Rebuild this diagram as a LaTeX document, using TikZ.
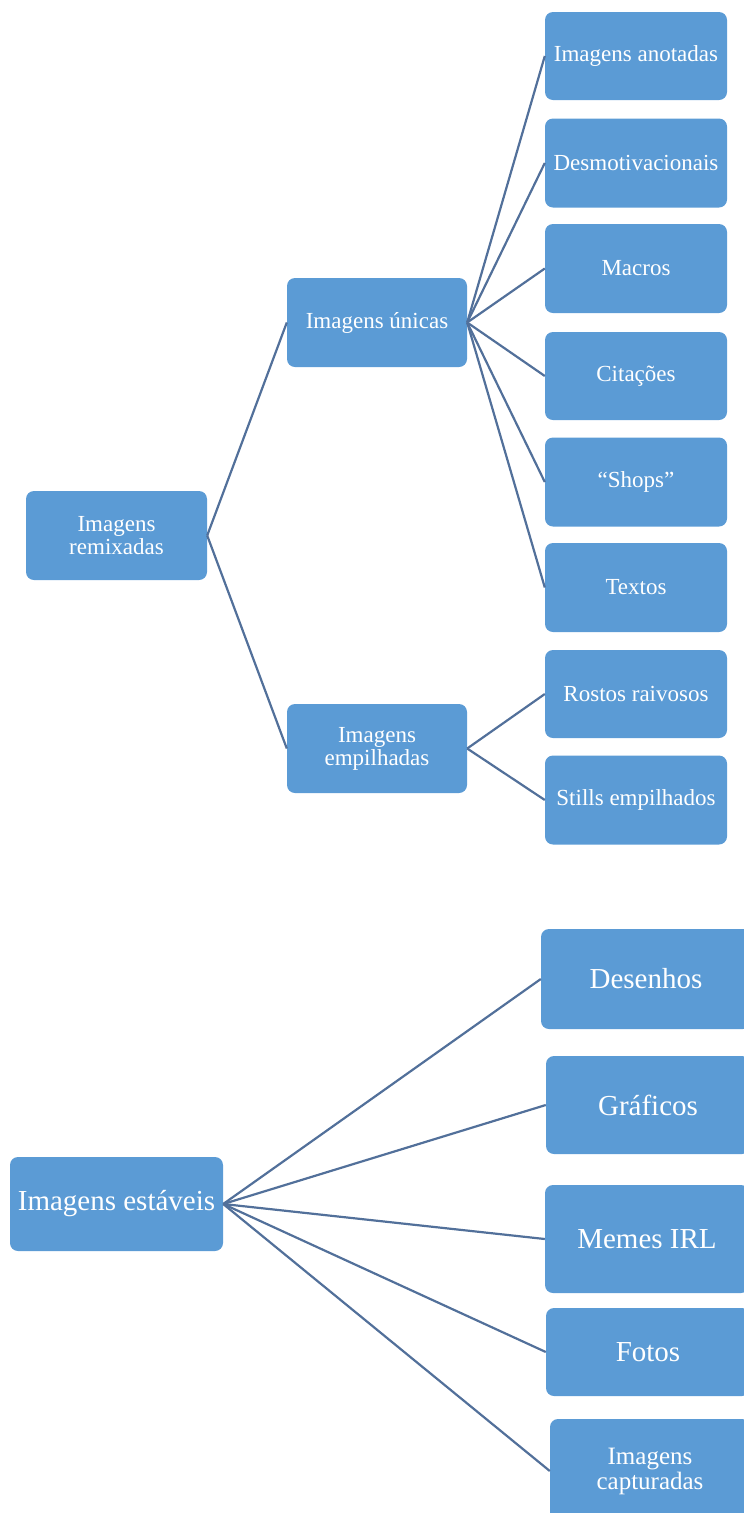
\documentclass[tikz,border=0pt]{standalone}
\usepackage{fontspec}
\setmainfont{Liberation Serif}
\definecolor{boxblue}{HTML}{5B9BD5}
\definecolor{linkblue}{HTML}{52709A}
\tikzset{
  box/.style={rounded corners=8pt, fill=boxblue, text=white, inner sep=0pt, align=center, anchor=center},
  small/.style={box, font=\fontsize{23}{23}\selectfont},
  big/.style={box, font=\fontsize{29}{29}\selectfont},
  link/.style={draw=linkblue, line width=2.2pt}
}
\begin{document}
\begin{tikzpicture}[x=1pt, y=-1pt]
\useasboundingbox (0,0) rectangle (744,1513);
\clip (0,0) rectangle (744,1513);
% top tree
\node[small, minimum width=181pt, minimum height=89pt] (rem) at (116.5,535.5) {Imagens\\remixadas};
\node[small, minimum width=180pt, minimum height=89pt] (uni) at (377,322.5) {Imagens únicas};
\node[small, minimum width=180pt, minimum height=89pt] (emp) at (377,748.5) {Imagens\\empilhadas};
\node[small, minimum width=182pt, minimum height=88pt] (ano) at (636,56) {Imagens anotadas};
\node[small, minimum width=182pt, minimum height=89pt] (des) at (636,163) {Desmotivacionais};
\node[small, minimum width=182pt, minimum height=89pt] (mac) at (636,268.5) {Macros};
\node[small, minimum width=182pt, minimum height=88pt] (cit) at (636,376) {Citações};
\node[small, minimum width=182pt, minimum height=89pt] (sho) at (636,482) {“Shops”};
\node[small, minimum width=182pt, minimum height=89pt] (tex) at (636,587.5) {Textos};
\node[small, minimum width=182pt, minimum height=88pt] (ros) at (636,694) {Rostos raivosos};
\node[small, minimum width=182pt, minimum height=89pt] (sti) at (636,800) {Stills empilhados};
\foreach \c in {ano,des,mac,cit,sho,tex} \draw[link] (uni.east) -- (\c.west);
\foreach \c in {ros,sti} \draw[link] (emp.east) -- (\c.west);
\draw[link] (rem.east) -- (uni.west);
\draw[link] (rem.east) -- (emp.west);
% bottom tree
\node[big, minimum width=213pt, minimum height=94pt] (est) at (116.5,1204) {Imagens estáveis};
\node[big, minimum width=210pt, minimum height=100pt] (dse) at (646,979) {Desenhos};
\node[big, minimum width=204pt, minimum height=98pt] (gra) at (648,1105) {Gráficos};
\node[big, minimum width=204pt, minimum height=108pt] (mem) at (647,1239) {Memes IRL};
\node[big, minimum width=204pt, minimum height=88pt] (fot) at (648,1352) {Fotos};
\node[box, font=\fontsize{25}{25}\selectfont, minimum width=200pt, minimum height=104pt] (cap) at (650,1471) {Imagens\\capturadas};
\foreach \c in {dse,gra,mem,fot,cap} \draw[link] (est.east) -- (\c.west);
\end{tikzpicture}
\end{document}
